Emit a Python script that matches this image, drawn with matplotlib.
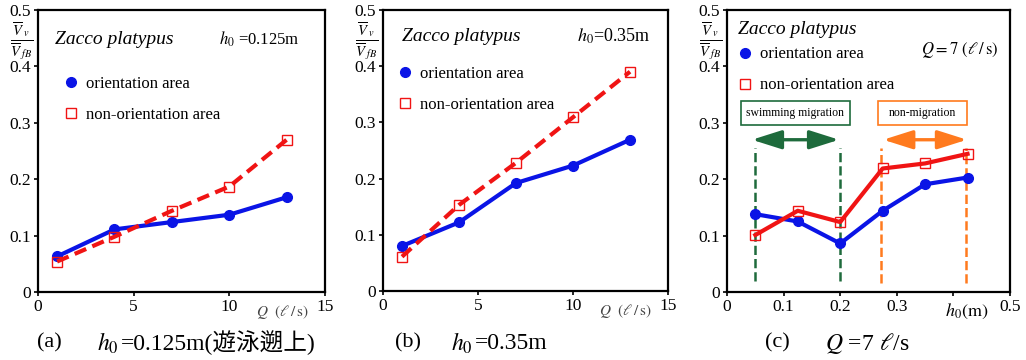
import matplotlib.pyplot as plt
from matplotlib.lines import Line2D
from matplotlib.patches import Rectangle
from matplotlib.ticker import FormatStrFormatter

plt.rcParams['font.family'] = ['Liberation Serif', 'Noto Sans CJK JP']
plt.rcParams['mathtext.fontset'] = 'stix'

# データ
q_flow = [1, 4, 7, 10, 13]
a_orient = [0.063, 0.111, 0.124, 0.137, 0.168]
a_non = [0.054, 0.098, 0.144, 0.187, 0.270]
b_orient = [0.080, 0.122, 0.192, 0.223, 0.269]
b_non = [0.061, 0.153, 0.228, 0.309, 0.390]
h_depth = [0.05, 0.125, 0.2, 0.275, 0.35, 0.425]
c_orient = [0.138, 0.125, 0.086, 0.144, 0.191, 0.203]
c_non = [0.101, 0.144, 0.124, 0.219, 0.228, 0.245]

swim_range = [0.05, 0.2]
non_range = [0.272, 0.422]

BLUE = '#0a14e6'
RED = '#f01414'
GREEN = '#1e6b3c'
ORANGE = '#ff7a1e'

ylab = r'$\frac{\overline{V}_{\ v}}{\overline{V}_{\ fB}}$'


def base_axes(fig, rect, xmax, xstep):
    ax = fig.add_axes(rect)
    ax.set_xlim(0, xmax)
    ax.set_ylim(0, 0.5)
    ax.set_xticks([i * xstep for i in range(6 if xstep < 1 else 4)])
    ax.set_yticks([0, 0.1, 0.2, 0.3, 0.4, 0.5])
    ax.xaxis.set_major_formatter(FormatStrFormatter('%g'))
    ax.yaxis.set_major_formatter(FormatStrFormatter('%g'))
    ax.tick_params(direction='out', length=3, width=1.2, labelsize=12.5, pad=2)
    for s in ax.spines.values():
        s.set_linewidth(1.6)
    ax.text(-0.058, 0.89, ylab, transform=ax.transAxes, fontsize=15,
            ha='center', va='center')
    return ax


def legend(ax, x, y):
    h = [Line2D([], [], marker='o', ls='none', color=BLUE, markersize=7),
         Line2D([], [], marker='s', ls='none', mfc='white', mec=RED,
                markersize=7, mew=1)]
    ax.legend(h, ['orientation area', 'non-orientation area'], loc='upper left',
              bbox_to_anchor=(x, y), frameon=False, fontsize=12,
              handletextpad=0.4, labelspacing=0.9, handlelength=1.0,
              borderaxespad=0)


def double_arrow(ax, x0, x1, y, color):
    ax.annotate('', xy=(x0, y), xytext=(x1, y),
                arrowprops=dict(arrowstyle='<|-|>,head_length=1.2,head_width=0.38',
                                mutation_scale=15, color=color, lw=2.4,
                                shrinkA=0, shrinkB=0))


fig = plt.figure(figsize=(10.26, 3.6), dpi=100)

# (a)
ax = base_axes(fig, [0.037, 0.189, 0.2797, 0.783], 15, 5)
ax.plot(q_flow, a_orient, '-o', color=BLUE, lw=3, ms=7)
ax.plot(q_flow, a_non, '--s', color=RED, lw=3, ms=7, mfc='none', mec=RED,
        mew=1, dashes=(3, 1.6))
ax.text(0.059, 0.895, 'Zacco platypus', style='italic', fontsize=14,
        transform=ax.transAxes, va='center')
ax.text(0.63, 0.895, r'$h_0$ =0.125m', fontsize=12, transform=ax.transAxes,
        va='center')
legend(ax, 0.062, 0.79)
ax.text(12.75, -0.02, r'$Q\ \ (\ell\,/\,\mathrm{s})$', fontsize=11,
        color='#444444', ha='center', va='top')
fig.text(0.036, 0.047, '(a)', fontsize=16, va='center')
fig.text(0.095, 0.047, r'$h_0$', fontsize=17, va='center')
fig.text(0.118, 0.047, '=0.125m(遊泳遡上)', fontsize=17, va='center')

# (b)
ax = base_axes(fig, [0.3733, 0.1917, 0.2778, 0.781], 15, 5)
ax.plot(q_flow, b_orient, '-o', color=BLUE, lw=3, ms=7)
ax.plot(q_flow, b_non, '--s', color=RED, lw=3, ms=7, mfc='none', mec=RED,
        mew=1, dashes=(3, 1.6))
ax.text(0.067, 0.905, 'Zacco platypus', style='italic', fontsize=14,
        transform=ax.transAxes, va='center')
ax.text(0.68, 0.905, r'$h_0$=0.35m', fontsize=13, transform=ax.transAxes,
        va='center')
legend(ax, 0.023, 0.825)
ax.text(12.75, -0.02, r'$Q\ \ (\ell\,/\,\mathrm{s})$', fontsize=11,
        color='#444444', ha='center', va='top')
fig.text(0.385, 0.047, '(b)', fontsize=16, va='center')
fig.text(0.44, 0.047, r'$h_0$', fontsize=17, va='center')
fig.text(0.463, 0.047, '=0.35m', fontsize=17, va='center')

# (c)
ax = base_axes(fig, [0.7086, 0.189, 0.2758, 0.783], 0.5, 0.1)
ax.set_xticklabels(['0', '0.1', '0.2', '0.3', '', '0.5'])
for xv in swim_range:
    ax.plot([xv, xv], [0.02, 0.255], ls='--', color=GREEN, lw=1.8)
for xv in non_range:
    ax.plot([xv, xv], [0.016, 0.255], ls='--', color=ORANGE, lw=1.8)
ax.plot(h_depth, c_orient, '-o', color=BLUE, lw=3, ms=7)
ax.plot(h_depth, c_non, '-s', color=RED, lw=3, ms=7, mfc='none', mec=RED, mew=1)
double_arrow(ax, 0.044, 0.198, 0.27, GREEN)
double_arrow(ax, 0.276, 0.424, 0.27, ORANGE)
ax.add_patch(Rectangle((0.024, 0.297), 0.193, 0.042, fill=False,
                       edgecolor=GREEN, lw=1.2))
ax.text(0.1205, 0.318, 'swimming migration', fontsize=8.5, ha='center',
        va='center')
ax.add_patch(Rectangle((0.267, 0.297), 0.157, 0.042, fill=False,
                       edgecolor=ORANGE, lw=1.2))
ax.text(0.3455, 0.318, 'non-migration', fontsize=8.5, ha='center', va='center')
ax.text(0.039, 0.93, 'Zacco platypus', style='italic', fontsize=14,
        transform=ax.transAxes, va='center')
ax.text(0.685, 0.86, r'$Q = 7\ (\ell\,/\,\mathrm{s})$', fontsize=12,
        transform=ax.transAxes, va='center')
legend(ax, 0.012, 0.895)
ax.text(0.423, -0.017, r'$h_0\mathrm{(m)}$', fontsize=13, ha='center',
        va='top')
fig.text(0.746, 0.047, '(c)', fontsize=16, va='center')
fig.text(0.804, 0.047, r'$Q$ =7 $\ell$/s', fontsize=17, va='center')

fig.savefig('out.png', dpi=100)
